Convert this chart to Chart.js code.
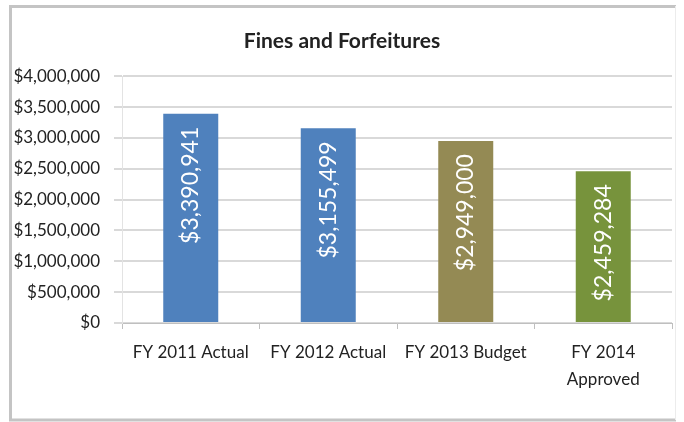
<!DOCTYPE html>
<html>
<head>
<meta charset="utf-8">
<title>Fines and Forfeitures</title>
<script src="https://cdn.jsdelivr.net/npm/chart.js@4.4.1/dist/chart.umd.min.js"></script>
<style>
  html, body { margin: 0; padding: 0; background: #fff; }
  #wrap { position: relative; width: 684px; height: 422px; }
</style>
</head>
<body>
<div id="wrap"><canvas id="fines-chart" width="684" height="422"></canvas></div>
<script>
// fines & forfeitures revenue by fiscal year
const categories = ['FY 2011 Actual', 'FY 2012 Actual', 'FY 2013 Budget', ['FY 2014', 'Approved']];
const amounts = [3390941, 3155499, 2949000, 2459284];
const barColors = ['#4f81bd', '#4f81bd', '#948a54', '#77933c'];
const yMin = 0;
const yMax = 4000000;
const yStep = 500000;

const FONT = "Lato, 'Open Sans', sans-serif";

function money(v) {
  return '$' + Math.round(v).toLocaleString('en-US');
}

// grey frame round the whole chart
const framePlugin = {
  id: 'frame',
  beforeDraw(chart) {
    let ctx = chart.ctx;
    ctx.save();
    ctx.fillStyle = '#fff';
    ctx.fillRect(0, 0, chart.width, chart.height);
    ctx.strokeStyle = '#c4c4c4';
    ctx.lineWidth = 3;
    ctx.beginPath();
    ctx.moveTo(676, 6.5);
    ctx.lineTo(10.5, 6.5);
    ctx.lineTo(10.5, 420);
    ctx.lineTo(676, 420);
    ctx.stroke();
    ctx.strokeStyle = '#ececec';
    ctx.lineWidth = 1;
    ctx.beginPath();
    ctx.moveTo(675.5, 6);
    ctx.lineTo(675.5, 420);
    ctx.stroke();
    ctx.restore();
  }
};

// value written sideways inside the top of each bar
const barLabelPlugin = {
  id: 'barLabels',
  afterDatasetsDraw(chart) {
    let ctx = chart.ctx;
    let meta = chart.getDatasetMeta(0);
    ctx.save();
    ctx.fillStyle = '#fff';
    ctx.font = '23px ' + FONT;
    ctx.textAlign = 'right';
    ctx.textBaseline = 'middle';
    meta.data.forEach((bar, i) => {
      ctx.save();
      ctx.translate(bar.x, bar.y + 13);
      ctx.rotate(-Math.PI / 2);
      ctx.fillText(money(amounts[i]), 0, 0);
      ctx.restore();
    });
    ctx.restore();
  }
};

let canvas = document.getElementById('fines-chart');

let data = {
  labels: categories,
  datasets: [{
    data: amounts,
    backgroundColor: barColors,
    borderWidth: 0,
    categoryPercentage: 1,
    barPercentage: 0.4
  }]
};

let config = {
  type: 'bar',
  data: data,
  options: {
    responsive: false,
    animation: false,
    layout: {
      padding: { top: 20, left: 12, right: 12, bottom: 28 }
    },
    plugins: {
      legend: { display: false },
      tooltip: { enabled: false },
      title: {
        display: true,
        text: 'Fines and Forfeitures',
        color: '#222',
        font: { family: FONT, size: 21, weight: 'bold', lineHeight: 1.2 },
        padding: { top: 9, bottom: 22 }
      }
    },
    scales: {
      x: {
        grid: {
          drawOnChartArea: false,
          drawTicks: true,
          tickLength: 6,
          color: '#bfbfbf'
        },
        border: { color: '#bfbfbf', width: 1 },
        ticks: {
          color: '#222',
          padding: 10,
          maxRotation: 0,
          autoSkip: false,
          font: { family: FONT, size: 17, lineHeight: 1.6 }
        },
        afterFit(scale) { scale.height = 71; }
      },
      y: {
        min: yMin,
        max: yMax,
        grid: {
          color: '#d9d9d9',
          lineWidth: 2,
          tickLength: 8
        },
        border: { color: '#e3e3e3', width: 1 },
        ticks: {
          stepSize: yStep,
          color: '#222',
          padding: 14,
          font: { family: FONT, size: 17 },
          callback: v => money(v)
        },
        afterFit(scale) { scale.width = 110; }
      }
    }
  },
  plugins: [framePlugin, barLabelPlugin]
};

let finesChart = new Chart(canvas, config);
</script>
</body>
</html>
